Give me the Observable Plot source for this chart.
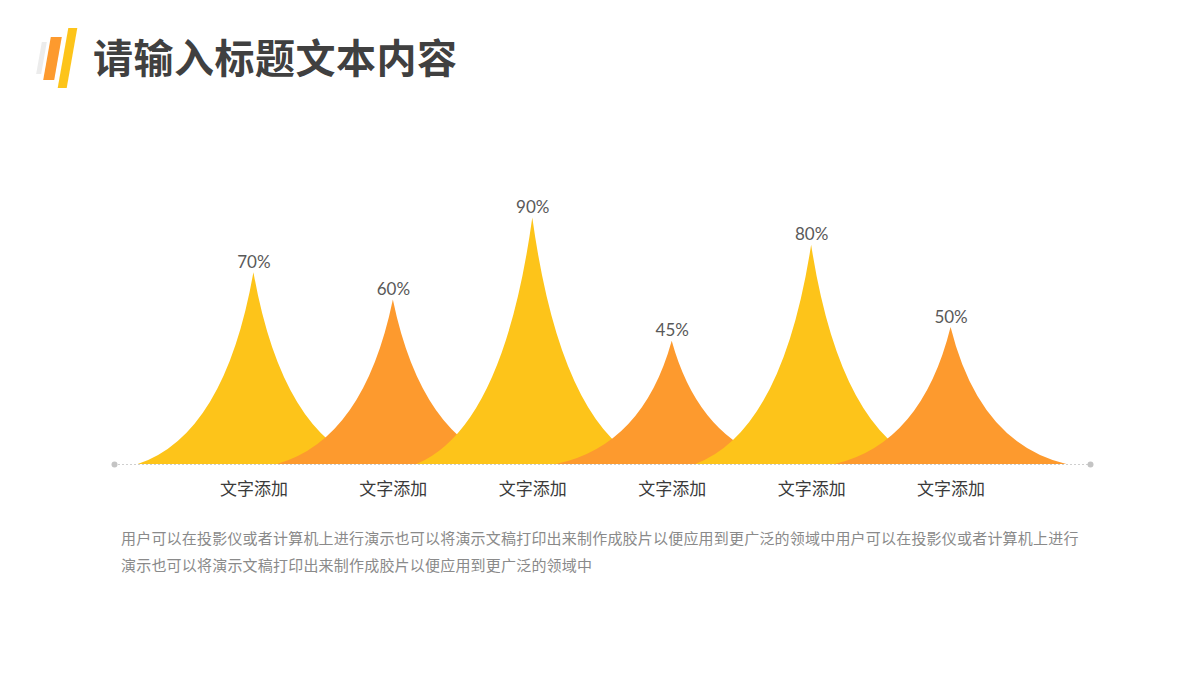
<!DOCTYPE html>
<html>
<head>
<meta charset="utf-8">
<script src="https://cdn.jsdelivr.net/npm/d3@7"></script>
<script src="https://cdn.jsdelivr.net/npm/@observablehq/plot@0.6"></script>
<style>
  html, body { margin: 0; padding: 0; background: #ffffff; }
  body { width: 1200px; height: 680px; overflow: hidden; font-family: "Noto Sans CJK SC", "Noto Sans", sans-serif; }
  #header { position: relative; height: 110px; }
  .bar { position: absolute; transform: skewX(-10deg); }
  #title { position: absolute; left: 93px; top: 31px; font-size: 40px; font-weight: bold; color: #404040; line-height: 50px; letter-spacing: 0.5px; }
  #chart svg { display: block; }
  #caption { margin-left: 121px; width: 965px; padding-top: 14px; font-size: 15px; line-height: 27px; color: #8a8a8a; letter-spacing: 0.2px; }
</style>
</head>
<body>
<div id="header">
  <div class="bar" style="left:39px; top:42px; width:5px; height:32px; background:#ececec;"></div>
  <div class="bar" style="left:47px; top:37px; width:11px; height:43px; background:#fd9a2e;"></div>
  <div class="bar" style="left:63px; top:28px; width:9px; height:60px; background:#fdc41a;"></div>
  <div id="title">请输入标题文本内容</div>
</div>
<div id="chart"></div>
<div id="caption">用户可以在投影仪或者计算机上进行演示也可以将演示文稿打印出来制作成胶片以便应用到更广泛的领域中用户可以在投影仪或者计算机上进行演示也可以将演示文稿打印出来制作成胶片以便应用到更广泛的领域中</div>
<script>
// ---- data ----
const categories = ["文字添加", "文字添加", "文字添加", "文字添加", "文字添加", "文字添加"];
const values = [70, 60, 90, 45, 80, 50];
const percentLabels = ["70%", "60%", "90%", "45%", "80%", "50%"];

// ---- derived table: three vertices per spike (base-left, peak, base-right) ----
const halfWidth = 0.83;
const spikePoints = values.flatMap((v, i) => [
  {id: i, x: i - halfWidth, y: 0},
  {id: i, x: i, y: v},
  {id: i, x: i + halfWidth, y: 0}
]);
const peaks = values.map((v, i) => ({i, v, label: percentLabels[i]}));
const cats = categories.map((c, i) => ({i, c}));

// custom concave "spike" curve: each side is a quadratic segment bowing inward
const bowW = 0.25, bowH = 0.15;
function Spike(context) { this._context = context; }
Spike.prototype = {
  areaStart() { this._line = 0; },
  areaEnd() { this._line = NaN; },
  lineStart() { this._point = 0; },
  lineEnd() {
    if (this._line || (this._line !== 0 && this._point === 1)) this._context.closePath();
    this._line = 1 - this._line;
  },
  point(x, y) {
    x = +x; y = +y;
    if (this._point === 0) {
      this._point = 1;
      this._line ? this._context.lineTo(x, y) : this._context.moveTo(x, y);
    } else if (y === this._y0) {
      this._context.lineTo(x, y);
    } else {
      const up = y < this._y0;
      const px = up ? x : this._x0, py = up ? y : this._y0;   // peak
      const bx = up ? this._x0 : x, by = up ? this._y0 : y;   // base
      const cx = px + bowW * (bx - px);
      const cy = by + bowH * (py - by);
      this._context.quadraticCurveTo(cx, cy, x, y);
    }
    this._x0 = x; this._y0 = y;
  }
};
const spikeCurve = (context) => new Spike(context);

const chart = Plot.plot({
  width: 1200,
  height: 400,
  marginLeft: 114,
  marginRight: 110,
  marginTop: 80,
  marginBottom: 46,
  x: {type: "linear", domain: [-1, 6], axis: null},
  y: {type: "linear", domain: [0, 100], axis: null},
  color: {type: "ordinal", domain: [0, 1], range: ["#fdc41a", "#fd9a2e"]},
  style: {background: "transparent"},
  marks: [
    Plot.areaY(spikePoints, {
      x: "x", y1: 0, y2: "y", z: "id",
      fill: (d) => d.id % 2,
      curve: spikeCurve
    }),
    Plot.ruleY([0], {stroke: "#cfcfcf", strokeWidth: 1, strokeDasharray: "2,2"}),
    Plot.dot([-1, 6], {x: (d) => d, y: () => 0, r: 3, fill: "#c4c4c4", stroke: null}),
    Plot.text(peaks, {
      x: "i", y: "v", text: "label",
      lineAnchor: "bottom", dy: -5,
      fontSize: 17, fill: "#595959",
      fontFamily: "Lato, 'Noto Sans', sans-serif"
    }),
    Plot.text(cats, {
      x: "i", y: () => 0, text: "c", dy: 25,
      fontSize: 17, fill: "#3a3a3a",
      fontFamily: "'Noto Sans CJK SC', sans-serif"
    })
  ]
});
document.getElementById("chart").appendChild(chart);
</script>
</body>
</html>
